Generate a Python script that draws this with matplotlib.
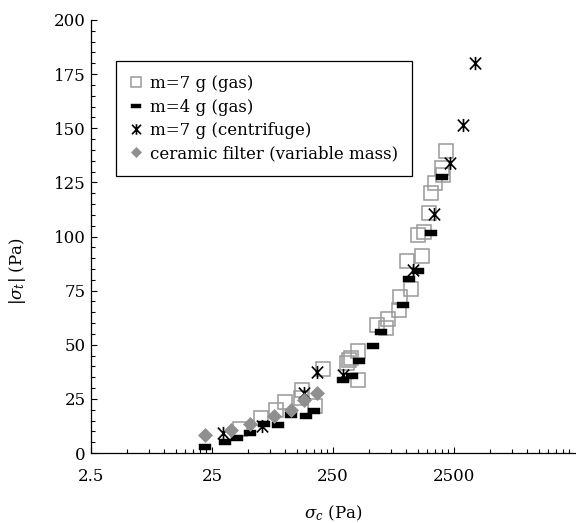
import matplotlib
matplotlib.use("Agg")
import matplotlib.pyplot as plt
from matplotlib.path import Path
from matplotlib.ticker import FixedLocator, FixedFormatter, MultipleLocator

plt.rcParams['font.family'] = ['DejaVu Serif']
plt.rcParams['mathtext.fontset'] = 'dejavuserif'
plt.rcParams['font.size'] = 12

# compressive stress sigma_c (Pa) vs tensile stress |sigma_t| (Pa)
gas7_x = [42.6, 63.5, 84.5, 100, 139, 135, 177.5, 208, 324, 341, 350, 404, 404,
          581, 708, 685, 877, 895, 1103, 1028, 1352, 1268, 1421, 1563, 1614,
          1742, 2041, 1977, 2148]
gas7_y = [10.9, 16.0, 19.7, 23.6, 29.1, 25.6, 21.9, 38.8, 41.4, 43.0, 43.7, 47.3,
          33.7, 59.1, 61.8, 57.6, 66.1, 72.2, 75.6, 88.9, 90.9, 100.8, 102.1,
          110.7, 120.1, 124.7, 128.2, 131.5, 139.3]

gas4_x = [21.9, 32.0, 40.3, 51.5, 67.3, 87, 112.5, 149, 172.5, 304, 362, 410,
          532, 623, 942, 1056, 1253, 1614, 1977]
gas4_y = [2.9, 5.2, 6.7, 9.4, 13.2, 13.1, 17.6, 17.2, 19.4, 33.9, 35.4, 42.5,
          49.5, 56.0, 68.5, 80.2, 84.2, 101.8, 127.3]

centr_x = [31, 65, 144, 183, 304, 1153, 1718, 2317, 2985, 3730]
centr_y = [9.1, 12.5, 27.6, 37.6, 36.0, 84.5, 110.4, 133.8, 151.5, 180]

ceramic_x = [21.9, 36.2, 51.5, 82, 112.5, 145, 183]
ceramic_y = [8.3, 10.6, 13.3, 17.2, 19.7, 24.5, 27.9]

labels = ['m=7 g (gas)', 'm=4 g (gas)', 'm=7 g (centrifuge)',
          'ceramic filter (variable mass)']

x_major = [2.5, 25, 250, 2500]
x_major_labels = ['2.5', '25', '250', '2500']
x_minor = [2.5 * k * 10 ** n for n in range(4) for k in range(2, 10)]

# custom markers: flat black bar and an asterisk with a vertical stroke
bar = Path([(-1, -0.5), (1, -0.5), (1, 0.5), (-1, 0.5), (-1, -0.5)],
           [Path.MOVETO, Path.LINETO, Path.LINETO, Path.LINETO, Path.CLOSEPOLY])
star = Path([(0, -1), (0, 1), (-0.85, -0.9), (0.85, 0.9), (-0.85, 0.9), (0.85, -0.9)],
            [Path.MOVETO, Path.LINETO] * 3)

fig = plt.figure(figsize=(5.76, 5.23), dpi=100)
ax = fig.add_axes([91 / 576, 70 / 523, 484 / 576, 433 / 523])

ax.plot(gas7_x, gas7_y, ls='none', marker='s', ms=9.4, mfc='none',
        mec='#999999', mew=1.1, label=labels[0])
ax.plot(gas4_x, gas4_y, ls='none', marker=bar, ms=8.8, mfc='black',
        mec='black', mew=0.3, label=labels[1])
ax.plot(centr_x, centr_y, ls='none', marker=star, ms=9.5, mfc='none',
        mec='black', mew=1.2, label=labels[2])
ax.plot(ceramic_x, ceramic_y, ls='none', marker='D', ms=6.8, mfc='#8f8f8f',
        mec='#8f8f8f', mew=0.5, label=labels[3])

ax.set_xscale('log')
ax.set_xlim(2.5, 25000)
ax.set_ylim(0, 200)
ax.xaxis.set_major_locator(FixedLocator(x_major))
ax.xaxis.set_major_formatter(FixedFormatter(x_major_labels))
ax.xaxis.set_minor_locator(FixedLocator(x_minor))
ax.xaxis.set_minor_formatter(FixedFormatter([]))
ax.yaxis.set_major_locator(MultipleLocator(25))
ax.yaxis.set_minor_locator(MultipleLocator(5))

for s in ['top', 'right']:
    ax.spines[s].set_visible(False)
for s in ['left', 'bottom']:
    ax.spines[s].set_linewidth(0.9)

ax.tick_params(which='both', direction='in', width=0.8, labelsize=12)
ax.tick_params(which='major', length=4.5)
ax.tick_params(which='minor', length=2.8)
ax.tick_params(axis='x', which='major', pad=11)
ax.tick_params(axis='y', which='major', pad=4)

ax.set_xlabel(r'$\sigma_c$ (Pa)', fontsize=12)
ax.xaxis.set_label_coords(0.5, -0.116)
ax.set_ylabel(r'$|\sigma_t|$ (Pa)', fontsize=12)
ax.yaxis.set_label_coords(-0.13, 0.42)

leg = ax.legend(loc='upper left', bbox_to_anchor=(0.051, 0.905), fontsize=12,
                frameon=True, fancybox=False, framealpha=1, edgecolor='black',
                handlelength=0.7, handletextpad=0.5, labelspacing=0.38,
                borderpad=0.85, borderaxespad=0, markerscale=0.8)
leg.get_frame().set_linewidth(0.9)

fig.savefig('out.png', dpi=100)
